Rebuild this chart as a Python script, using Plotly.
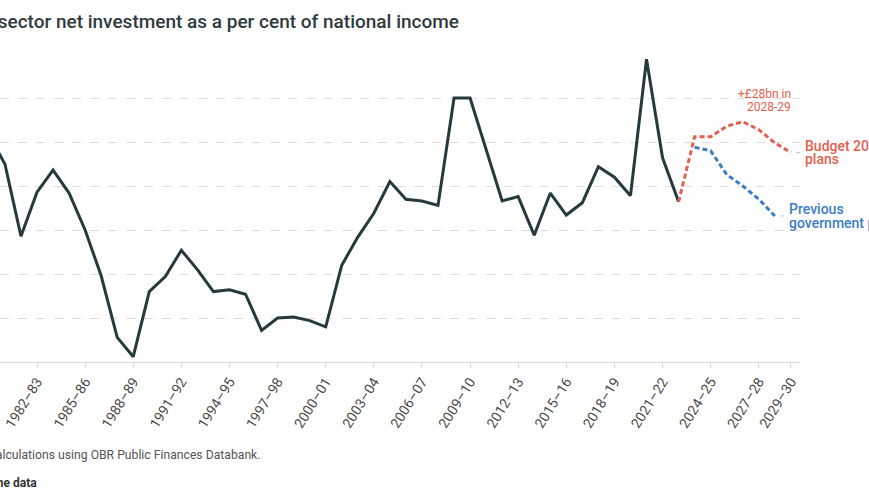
import plotly.graph_objects as go

# Fiscal years identified by their starting calendar year (e.g. 1982 -> 1982–83)
actual_years = list(range(1979, 2023))
actual_values = [2.58, 2.25, 1.43, 1.93, 2.18, 1.92, 1.50, 0.98, 0.28, 0.06,
                 0.80, 0.97, 1.27, 1.05, 0.80, 0.82, 0.77, 0.36, 0.50, 0.51,
                 0.47, 0.40, 1.10, 1.42, 1.69, 2.05, 1.85, 1.83, 1.78, 3.00,
                 3.00, 2.41, 1.83, 1.88, 1.44, 1.92, 1.67, 1.81, 2.22, 2.10,
                 1.89, 3.44, 2.32, 1.82]

budget_years = list(range(2022, 2030))
budget_values = [1.82, 2.56, 2.56, 2.68, 2.73, 2.64, 2.49, 2.38]

previous_years = list(range(2023, 2029))
previous_values = [2.44, 2.40, 2.13, 2.00, 1.85, 1.66]

tick_years = [1982, 1985, 1988, 1991, 1994, 1997, 2000, 2003, 2006, 2009,
              2012, 2015, 2018, 2021, 2024, 2027, 2029]
tick_labels = [f"{y}–{str(y + 1)[-2:]}" for y in tick_years]

DARK = "#263A3E"
RED = "#E4604E"
BLUE = "#3A7DC4"
FONT = "Roboto"

fig = go.Figure()
fig.add_trace(go.Scatter(x=actual_years, y=actual_values, mode="lines",
                         line=dict(color=DARK, width=3), hoverinfo="skip"))
fig.add_trace(go.Scatter(x=budget_years, y=budget_values, mode="lines",
                         line=dict(color=RED, width=3, dash="5px,3px"), hoverinfo="skip"))
fig.add_trace(go.Scatter(x=previous_years, y=previous_values, mode="lines",
                         line=dict(color=BLUE, width=3, dash="5px,3px"), hoverinfo="skip"))

px_per_year = 16.04
x0 = 1982 - 37 / px_per_year
x1 = 1982 + 763 / px_per_year

fig.update_layout(
    width=869, height=504,
    margin=dict(l=0, r=69, t=54, b=142),
    paper_bgcolor="white", plot_bgcolor="white",
    showlegend=False,
    font=dict(family=FONT, color="#555555"),
    xaxis=dict(range=[x0, x1], tickmode="array", tickvals=tick_years,
               ticktext=tick_labels, tickangle=-58, showgrid=False,
               showline=True, linecolor="#D9D9D9", linewidth=1,
               ticks="outside", ticklen=5, tickcolor="#D9D9D9",
               tickfont=dict(size=14, color="#4A4A4A", family=FONT),
               zeroline=False, fixedrange=True),
    yaxis=dict(range=[0, 3.5], dtick=0.5, showgrid=True, gridcolor="#DDDDDD",
               griddash="dash", gridwidth=1, showticklabels=False,
               zeroline=False, showline=False, fixedrange=True),
)

def pyr(py):
    return (362 - py) / 308

def pxr(px):
    return px / 800

def data_to_paper_x(x):
    return (x - x0) / (x1 - x0)

def data_to_paper_y(y):
    return y / 3.5

ann = []
ann.append(dict(text="Public sector net investment as a per cent of national income",
                xref="paper", yref="paper", x=pxr(461), y=pyr(22),
                xanchor="right", yanchor="middle", showarrow=False,
                font=dict(size=19, color="#2E3B3E", family=FONT, weight=500)))
ann.append(dict(text="Source: Resolution Foundation calculations using OBR Public Finances Databank.",
                xref="paper", yref="paper", x=pxr(263), y=pyr(455),
                xanchor="right", yanchor="middle", showarrow=False,
                font=dict(size=12.2, color="#555555", family=FONT)))
ann.append(dict(text="<b>Get the data</b>",
                xref="paper", yref="paper", x=pxr(39), y=pyr(483),
                xanchor="right", yanchor="middle", showarrow=False,
                font=dict(size=12, color="#333333", family=FONT)))

# Series labels (paper coordinates so they can sit beyond the axis range)
last_b_x, last_b_y = budget_years[-1], budget_values[-1]
last_p_x, last_p_y = previous_years[-1], previous_values[-1]
for txt, dy in [("Budget 2024", 0.08), ("plans", -0.07)]:
    ann.append(dict(text=txt, xref="paper", yref="paper",
                    x=data_to_paper_x(last_b_x + 0.77), y=data_to_paper_y(last_b_y + dy),
                    xanchor="left", yanchor="middle", showarrow=False,
                    font=dict(size=14, color=RED, family=FONT, weight=500)))
for txt, dy in [("Previous", 0.075), ("government plans", -0.075)]:
    ann.append(dict(text=txt, xref="paper", yref="paper",
                    x=data_to_paper_x(last_p_x + 0.76), y=data_to_paper_y(last_p_y + dy),
                    xanchor="left", yanchor="middle", showarrow=False,
                    font=dict(size=14, color=BLUE, family=FONT, weight=500)))
for txt, dy in [("+£28bn in", 0.56), ("2028-29", 0.41)]:
    ann.append(dict(text=txt, xref="paper", yref="paper",
                    x=data_to_paper_x(2029.15), y=data_to_paper_y(budget_values[-2] + dy),
                    xanchor="right", yanchor="middle", showarrow=False,
                    font=dict(size=12, color=RED, family=FONT)))
fig.update_layout(annotations=ann)

# small connector ticks between line ends and labels
for lx, ly in [(last_b_x, last_b_y), (last_p_x, last_p_y)]:
    fig.add_shape(type="line", x0=lx + 0.35, x1=lx + 0.55, y0=ly, y1=ly,
                  line=dict(color="#BBBBBB", width=1))

fig.write_html("out.html")
